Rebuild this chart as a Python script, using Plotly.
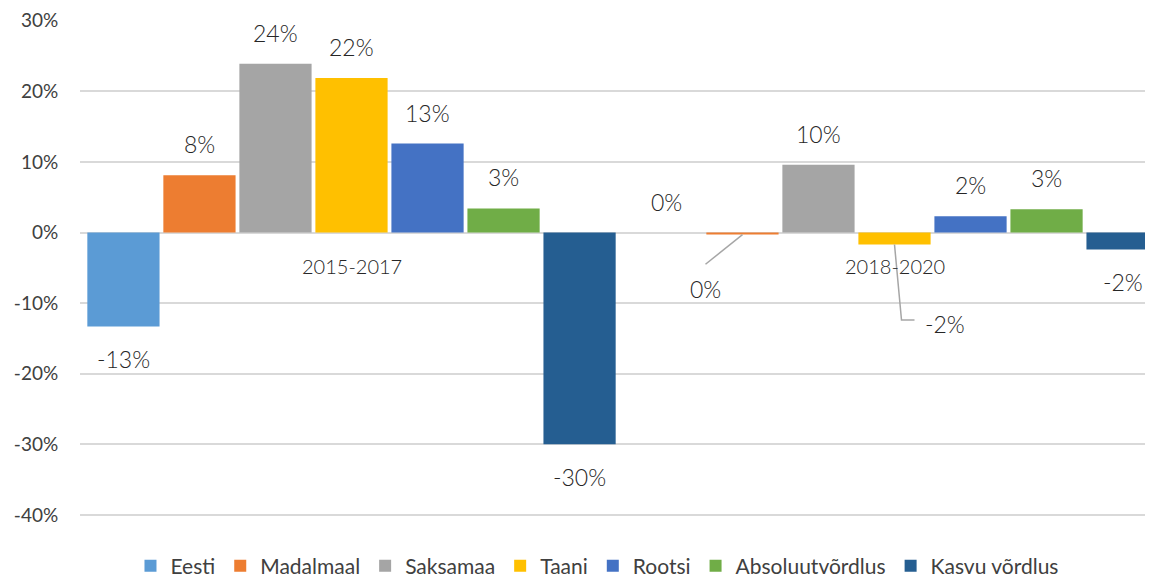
import plotly.graph_objects as go

periods = ["2015-2017", "2018-2020"]
series = ["Eesti", "Madalmaal", "Saksamaa", "Taani", "Rootsi", "Absoluutvõrdlus", "Kasvu võrdlus"]
values = {
    "Eesti": [-13.3, 0.0],
    "Madalmaal": [8.1, -0.3],
    "Saksamaa": [23.9, 9.6],
    "Taani": [21.9, -1.7],
    "Rootsi": [12.6, 2.3],
    "Absoluutvõrdlus": [3.4, 3.3],
    "Kasvu võrdlus": [-30.0, -2.4],
}
colors = ["#5B9BD5", "#ED7D31", "#A5A5A5", "#FFC000", "#4472C4", "#70AD47", "#255E91"]
y_ticks = [30, 20, 10, 0, -10, -20, -30, -40]

FONT = "Lato, 'Open Sans', sans-serif"
TXT = "#404040"
LBL = "#262626"

fig = go.Figure()
xpos = [0, 1]
for s, c in zip(series, colors):
    fig.add_trace(go.Bar(name=s, x=xpos, y=values[s], marker_color=c, marker_line_width=0))

n = len(series)
slot = 76 / 543  # width per bar in category units
lblfont = dict(size=23, color=LBL, family=FONT, weight=300)
annotations = []
shapes = []
for i, s in enumerate(series):
    for g, v in enumerate(values[s]):
        xc = xpos[g] + (i - (n - 1) / 2) * slot
        label = f"{round(v):d}%".replace("-0%", "0%")
        if g == 1 and s == "Madalmaal":
            annotations.append(dict(x=xc - 37 / 543, y=-8.0, yref="y", xref="x", text=label,
                                    showarrow=False, font=lblfont))
            shapes.append(dict(type="path", xref="x", yref="y",
                               path=f"M {xc},{v} L {xc - 37/543},{-4.5}",
                               line=dict(color="#A6A6A6", width=1.5)))
            continue
        if g == 1 and s == "Taani":
            annotations.append(dict(x=xc + 50 / 543, y=-12.9, yref="y", xref="x", text=label,
                                    showarrow=False, font=lblfont))
            shapes.append(dict(type="path", xref="x", yref="y",
                               path=f"M {xc},{v} L {xc + 7/543},{-12.4} L {xc + 20/543},{-12.4}",
                               line=dict(color="#A6A6A6", width=1.5)))
            continue
        annotations.append(dict(x=xc, y=v, xref="x", yref="y", text=label, showarrow=False,
                                yshift=31 if v >= 0 else -33, font=lblfont))

for g, p in enumerate(periods):
    annotations.append(dict(x=xpos[g], y=0, xref="x", yref="y", text=p, showarrow=False, yshift=-33,
                            font=dict(size=20, color=LBL, family=FONT, weight=300)))

fig.update_layout(
    width=1145, height=569,
    margin=dict(l=72, r=0, t=12, b=60, autoexpand=False),
    paper_bgcolor="white", plot_bgcolor="white",
    barmode="group", bargap=0.02, bargroupgap=0.05,
    font=dict(family=FONT, color=TXT, size=17),
    showlegend=True,
    legend=dict(orientation="h", xref="container", x=0.5144, xanchor="center",
                yref="container", y=11 / 569, yanchor="middle",
                font=dict(size=21, color=TXT, family=FONT), itemwidth=30),
    annotations=annotations,
    shapes=shapes,
)
fig.update_xaxes(range=[-0.5, -0.5 + 1073 / 543], showticklabels=False, showgrid=False,
                 zeroline=False, showline=False, ticks="")
fig.update_yaxes(range=[-40.3, 30.1], tickvals=y_ticks, ticktext=[f"{t}%" for t in y_ticks],
                 showgrid=True, gridcolor="#D9D9D9", gridwidth=1.5,
                 zeroline=True, zerolinecolor="#D9D9D9", zerolinewidth=1.5,
                 ticks="outside", ticklen=17, tickcolor="rgba(0,0,0,0)",
                 ticklabeloverflow="allow",
                 tickfont=dict(size=19, color=TXT, family=FONT))

fig.write_html("out.html")
